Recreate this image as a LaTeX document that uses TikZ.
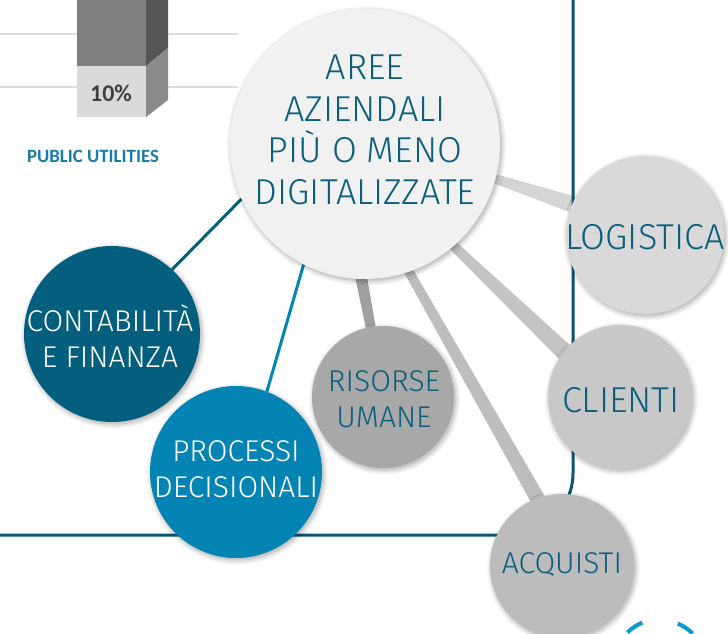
\documentclass[tikz,border=0pt]{standalone}
\usepackage{fontspec}
\usetikzlibrary{shadows.blur}
\newfontfamily\lblfont{Fira Sans Light}
\newfontfamily\chartfont{Carlito}[BoldFont=Carlito Bold]

\definecolor{inkteal}{HTML}{0B5E7C}
\definecolor{frameteal}{HTML}{0B5673}
\definecolor{deepteal}{HTML}{045F7F}
\definecolor{procblue}{HTML}{0484B4}
\definecolor{titleblue}{HTML}{1A7BA6}
\definecolor{arcblue}{HTML}{0A9AD0}
\definecolor{paper}{HTML}{F1F1F1}
\definecolor{logifill}{HTML}{D9D9D9}
\definecolor{clifill}{HTML}{C8C8C8}
\definecolor{acqfill}{HTML}{BCBCBC}
\definecolor{risfill}{HTML}{A8A8A8}
\definecolor{gridgray}{HTML}{DCDCDC}
\definecolor{barfront}{HTML}{7F7F7F}
\definecolor{barfrontlo}{HTML}{DADADA}
\definecolor{barside}{HTML}{555555}
\definecolor{barsidelo}{HTML}{8A8A8A}
\definecolor{pcttext}{HTML}{404040}
\definecolor{linklogi}{HTML}{D4D4D4}
\definecolor{linkcli}{HTML}{C4C4C4}
\definecolor{linkacq}{HTML}{BDBDBD}
\definecolor{linkris}{HTML}{A0A0A0}

\pgfdeclarelayer{back}
\pgfsetlayers{back,main}

\tikzset{
  disc/.style={circle, inner sep=0pt, draw=none,
    blur shadow={shadow blur steps=10, shadow xshift=1.5pt, shadow yshift=-2pt,
      shadow blur radius=5pt, shadow opacity=35}},
  bigtext/.style={font=\lblfont\fontsize{36}{41.7}\selectfont, text=inkteal, align=center, inner sep=0pt},
  smalltext/.style={font=\lblfont\fontsize{30}{36}\selectfont, text=inkteal, align=center, inner sep=0pt},
  whitetext/.style={smalltext, text=white},
  spoke/.style={line width=3pt},
  framestyle/.style={draw=frameteal, line width=3pt},
  gridline/.style={draw=gridgray, line width=1.5pt},
}

\begin{document}
\begin{tikzpicture}[x=1pt, y=-1pt]
\clip (0,0) rectangle (728,634);

% chart fragment
\draw[gridline] (0,34) -- (238,34);
\draw[gridline] (0,87) -- (238,87);
\fill[barfront] (77,-20) rectangle (146,66);
\fill[barfrontlo] (77,66) rectangle (146,117);
\fill[barside] (146,-20) -- (168,-38) -- (168,48) -- (146,66) -- cycle;
\fill[barsidelo] (146,66) -- (168,48) -- (168,100) -- (146,117) -- cycle;
\node[font=\chartfont\bfseries\fontsize{24}{28}\selectfont, text=pcttext, inner sep=0pt] (pct) at (111,93) {10\%};
\node[font=\chartfont\bfseries\fontsize{18.8}{22}\selectfont, text=titleblue, inner sep=0pt] (sector) at (93,156) {PUBLIC UTILITIES};

% frame
\draw[framestyle, rounded corners=62pt] (573,-5) -- (573,535) -- (-5,535);

% icon arcs
\draw[arcblue, line width=4pt] (627.5,632.5) arc[start angle=135, end angle=112.7, radius=46pt];
\draw[arcblue, line width=4pt] (677.8,623.6) arc[start angle=67.3, end angle=45, radius=46pt];

% circles
\node[disc, fill=paper, minimum size=270pt] (core) at (365,144) {};
\node[disc, fill=logifill, minimum size=158pt] (logi) at (645,235) {};
\node[disc, fill=clifill, minimum size=144pt] (cli) at (620,397) {};
\node[disc, fill=acqfill, minimum size=144pt] (acq) at (562,566) {};
\node[disc, fill=risfill, minimum size=142pt] (ris) at (383,397) {};
\node[disc, fill=deepteal, minimum size=176pt] (conta) at (112,334) {};
\node[disc, fill=procblue, minimum size=172pt] (proc) at (236,472) {};

% labels
\node[bigtext] (coret) at (365,130) {AREE\\AZIENDALI\\PIÙ O MENO\\DIGITALIZZATE};
\node[bigtext] (logit) at (645,237) {LOGISTICA};
\node[bigtext] (clit) at (621,400) {CLIENTI};
\node[smalltext] (acqt) at (562,564) {ACQUISTI};
\node[smalltext] (rist) at (384,399) {RISORSE\\UMANE};
\node[whitetext] (contat) at (110,336) {CONTABILITÀ\\E FINANZA};
\node[whitetext] (proct) at (236,469) {PROCESSI\\DECISIONALI};

% connectors
\begin{pgfonlayer}{back}
  \fill[linklogi] (core.-13) -- (core.-17) -- (logi.163) -- (logi.151) -- cycle;
  \fill[linkcli] (core.-47) -- (core.-51) -- (cli.148) -- (cli.134) -- cycle;
  \fill[linkacq] (core.-69) -- (core.-73) -- (acq.116) -- (acq.104) -- cycle;
  \fill[linkris] (core.-89) -- (core.-94) -- (ris.104) -- (ris.96) -- cycle;
  \draw[spoke, deepteal] (core.204.6) -- (conta.47.7);
  \draw[spoke, procblue] (core.243.6) -- (proc.69.3);
\end{pgfonlayer}
\end{tikzpicture}
\end{document}
